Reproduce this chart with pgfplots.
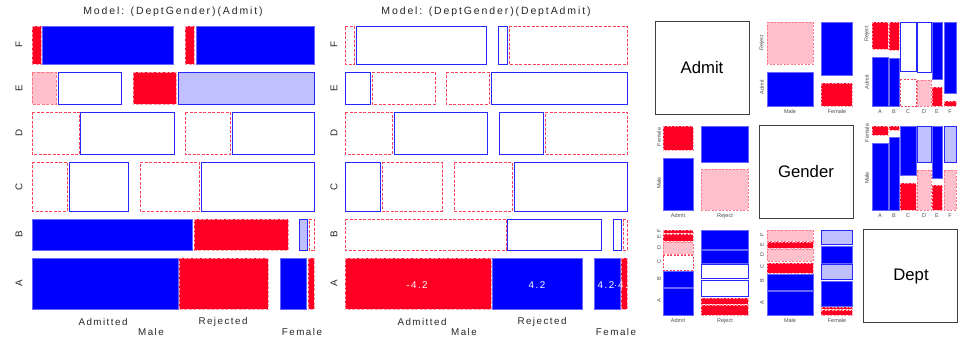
\documentclass[border=0pt]{standalone}
\usepackage{fontspec}
\setmainfont{Liberation Sans}
\newfontfamily\lsfont[LetterSpace=15]{Liberation Sans}
\newfontfamily\ttlfont[LetterSpace=18]{Liberation Sans}
\usepackage{pgfplots}
\pgfplotsset{compat=1.18}
\definecolor{mblue}{RGB}{0,0,255}
\definecolor{mred}{RGB}{255,0,36}
\definecolor{mpink}{RGB}{255,192,203}
\definecolor{mlblue}{RGB}{192,192,255}
\def\lw{0.9bp}
\def\dsh{3bp}
\tikzset{
 pf/.style={fill=mblue, draw=mblue!60!white, line width=\lw},
 pl/.style={fill=mlblue, draw=mblue!85!white, line width=\lw},
 pw/.style={fill=white, draw=mblue!85!white, line width=\lw},
 nf/.style={fill=mred, draw=mred!40!white, dash pattern=on \dsh off 1.5bp, line width=\lw},
 nl/.style={fill=mpink, draw=mred!55!white, dash pattern=on \dsh off 1.5bp, line width=\lw},
 nw/.style={fill=white, draw=mred!75!white, dash pattern=on \dsh off 1.5bp, line width=\lw},
 db/.style={fill=white, draw=black!75, line width=1bp},
 lab/.style={font=\lsfont\fontsize{9.8bp}{11bp}\selectfont, text=black!85, inner sep=0pt},
 ttl/.style={font=\ttlfont\fontsize{10.5bp}{12bp}\selectfont, text=black!85, inner sep=0pt},
 sl/.style={font=\fontsize{5.5bp}{6bp}\selectfont, text=black!70, inner sep=0pt},
 dl/.style={font=\fontsize{16.7bp}{18bp}\selectfont, inner sep=0pt},
}
\newcommand{\tile}[5]{\addplot[#5] coordinates {(#1,#3)(#2,#3)(#2,#4)(#1,#4)} -- cycle;}
\pgfplotsset{panel/.style={scale only axis, axis lines=none, y dir=reverse, clip=false, ymin=0, ymax=337, height=337bp, anchor=north west}}
\begin{document}
\begin{tikzpicture}
\path[use as bounding box] (0bp,0bp) rectangle (963bp,-337bp);
% ---------------- left panel
\begin{axis}[panel, at={(0bp,0bp)}, width=330bp, xmin=0, xmax=330]
\tile{32}{41}{26}{64}{nf} \tile{42}{173}{26}{64}{pf} \tile{185}{194}{26}{64}{nf} \tile{196}{314}{26}{64}{pf}
\tile{32}{56}{72}{104}{nl} \tile{58}{121}{72}{104}{pw} \tile{133}{176}{72}{104}{nf} \tile{178}{314}{72}{104}{pl}
\tile{32}{79}{112}{154}{nw} \tile{80}{174}{112}{154}{pw} \tile{185}{230}{112}{154}{nw} \tile{232}{314}{112}{154}{pw}
\tile{32}{67}{162}{211}{nw} \tile{69}{128}{162}{211}{pw} \tile{140}{199}{162}{211}{nw} \tile{201}{314}{162}{211}{pw}
\tile{32}{192}{219}{250}{pf} \tile{194}{288}{219}{250}{nf} \tile{299}{307}{219}{250}{pl} \tile{309}{314}{219}{250}{nw}
\tile{32}{178}{258}{309}{pf} \tile{179}{268}{258}{309}{nf} \tile{280}{306}{258}{309}{pf} \tile{308}{314}{258}{309}{nf}
\node[ttl] at (axis cs:173,12) {Model: (DeptGender)(Admit)};
\node[lab,rotate=90] at (axis cs:19,45) {F};
\node[lab,rotate=90] at (axis cs:19,88) {E};
\node[lab,rotate=90] at (axis cs:19,133) {D};
\node[lab,rotate=90] at (axis cs:19,186.5) {C};
\node[lab,rotate=90] at (axis cs:19,234.5) {B};
\node[lab,rotate=90] at (axis cs:19,283.5) {A};
\node[lab] at (axis cs:103,322) {Admitted};
\node[lab] at (axis cs:223,322) {Rejected};
\node[lab] at (axis cs:151,332) {Male};
\node[lab] at (axis cs:302,332) {Female};
\end{axis}
% ---------------- middle panel
\begin{axis}[panel, at={(330bp,0bp)}, width=310bp, xmin=330, xmax=640]
\tile{345}{354}{26}{64}{nw} \tile{356}{486}{26}{64}{pw} \tile{498}{507}{26}{64}{pw} \tile{509}{627}{26}{64}{nw}
\tile{345}{370}{72}{104}{pw} \tile{372}{435}{72}{104}{nw} \tile{446}{489}{72}{104}{nw} \tile{491}{627}{72}{104}{pw}
\tile{345}{392}{112}{154}{nw} \tile{394}{487}{112}{154}{pw} \tile{499}{543}{112}{154}{pw} \tile{545}{627}{112}{154}{nw}
\tile{345}{380}{162}{211}{pw} \tile{382}{442}{162}{211}{nw} \tile{454}{512}{162}{211}{nw} \tile{514}{627}{162}{211}{pw}
\tile{345}{506}{219}{250}{nw} \tile{507}{601}{219}{250}{pw} \tile{613}{621}{219}{250}{pw} \tile{623}{627}{219}{250}{nw}
\tile{345}{491}{258}{309}{nf} \tile{492}{582}{258}{309}{pf} \tile{594}{620}{258}{309}{pf} \tile{621}{627}{258}{309}{nf}
\node[lab,text=white] at (axis cs:417,285) {-4.2};
\node[lab,text=white] at (axis cs:537,285) {4.2};
\node[lab,text=white] at (axis cs:606,285) {4.2};
\begin{scope}
\clip (axis cs:615,250) rectangle (axis cs:628,320);
\node[lab,text=white] at (axis cs:624,285) {-4.2};
\end{scope}
\node[ttl] at (axis cs:486,12) {Model: (DeptGender)(DeptAdmit)};
\node[lab,rotate=90] at (axis cs:334,45) {F};
\node[lab,rotate=90] at (axis cs:334,88) {E};
\node[lab,rotate=90] at (axis cs:334,133) {D};
\node[lab,rotate=90] at (axis cs:334,186.5) {C};
\node[lab,rotate=90] at (axis cs:334,234.5) {B};
\node[lab,rotate=90] at (axis cs:334,283.5) {A};
\node[lab] at (axis cs:422,322) {Admitted};
\node[lab] at (axis cs:542,322) {Rejected};
\node[lab] at (axis cs:464,332) {Male};
\node[lab] at (axis cs:616,332) {Female};
\end{axis}
% ---------------- pairs panel
\def\lw{0.6bp}
\def\dsh{2bp}
\begin{axis}[panel, at={(640bp,0bp)}, width=323bp, xmin=640, xmax=963]
\tile{655}{749}{21}{114}{db} \tile{759}{853}{125}{218}{db} \tile{863}{957}{229}{322}{db}
\node[dl] at (axis cs:702,68) {Admit};
\node[dl] at (axis cs:806,172) {Gender};
\node[dl] at (axis cs:911,276) {Dept};
% (1,2) Admit x Gender
\tile{767}{813}{22}{64}{nl} \tile{767}{813}{72}{106}{pf} \tile{821}{852}{22}{75}{pf} \tile{821}{852}{83}{106}{nf}
\node[sl,rotate=90] at (axis cs:762,43) {Reject};
\node[sl,rotate=90] at (axis cs:762,87) {Admit};
\node[sl] at (axis cs:790,112) {Male};
\node[sl] at (axis cs:837,112) {Female};
% (1,3) Admit x Dept
\tile{872}{888}{22}{49}{nf} \tile{872}{888}{57}{106}{pf}
\tile{889}{899}{22}{50}{nf} \tile{889}{899}{58}{106}{pf}
\tile{900}{916}{22}{71}{pw} \tile{900}{916}{79}{106}{nw}
\tile{917}{931}{22}{72}{pw} \tile{917}{931}{80}{106}{nl}
\tile{932}{942}{22}{79}{pf} \tile{932}{942}{87}{106}{nf}
\tile{944}{956}{22}{93}{pf} \tile{944}{956}{101}{106}{nf}
\node[sl,rotate=90] at (axis cs:867,34) {Reject};
\node[sl,rotate=90] at (axis cs:867,82) {Admit};
\node[sl] at (axis cs:880,112) {A};
\node[sl] at (axis cs:894,112) {B};
\node[sl] at (axis cs:908,112) {C};
\node[sl] at (axis cs:924,112) {D};
\node[sl] at (axis cs:937,112) {E};
\node[sl] at (axis cs:950,112) {F};
% (2,1) Gender x Admit
\tile{663}{693}{126}{150}{nf} \tile{663}{693}{158}{210}{pf} \tile{701}{748}{126}{162}{pf} \tile{701}{748}{169}{210}{nl}
\node[sl,rotate=90] at (axis cs:659,137) {Female};
\node[sl,rotate=90] at (axis cs:659,183) {Male};
\node[sl] at (axis cs:678,216) {Admit};
\node[sl] at (axis cs:725,216) {Reject};
% (2,3) Gender x Dept
\tile{872}{888}{126}{135}{nf} \tile{872}{888}{143}{210}{pf}
\tile{889}{899}{126}{130}{nf} \tile{889}{899}{137}{210}{pf}
\tile{900}{916}{126}{175}{pf} \tile{900}{916}{183}{210}{nf}
\tile{917}{931}{126}{162}{pl} \tile{917}{931}{170}{210}{nl}
\tile{932}{942}{126}{178}{pf} \tile{932}{942}{185}{210}{nf}
\tile{944}{956}{126}{162}{pl} \tile{944}{956}{170}{210}{nl}
\node[sl,rotate=90] at (axis cs:867,133) {Female};
\node[sl,rotate=90] at (axis cs:867,178) {Male};
\node[sl] at (axis cs:880,216) {A};
\node[sl] at (axis cs:894,216) {B};
\node[sl] at (axis cs:908,216) {C};
\node[sl] at (axis cs:924,216) {D};
\node[sl] at (axis cs:937,216) {E};
\node[sl] at (axis cs:950,216) {F};
% (3,1) Dept x Admit
\tile{663}{693}{230}{233}{nf} \tile{663}{693}{234}{241}{nf} \tile{663}{693}{242}{254}{nl}
\tile{663}{693}{255}{270}{nw} \tile{663}{693}{271}{287}{pf} \tile{663}{693}{288}{315}{pf}
\tile{701}{748}{230}{249}{pf} \tile{701}{748}{250}{263}{pf} \tile{701}{748}{264}{278}{pw}
\tile{701}{748}{280}{296}{pw} \tile{701}{748}{298}{304}{nf} \tile{701}{748}{305}{315}{nf}
\node[sl,rotate=90] at (axis cs:659,231) {F};
\node[sl,rotate=90] at (axis cs:659,237) {E};
\node[sl,rotate=90] at (axis cs:659,248) {D};
\node[sl,rotate=90] at (axis cs:659,262) {C};
\node[sl,rotate=90] at (axis cs:659,279) {B};
\node[sl,rotate=90] at (axis cs:659,301) {A};
\node[sl] at (axis cs:678,321) {Admit};
\node[sl] at (axis cs:725,321) {Reject};
% (3,2) Dept x Gender
\tile{767}{813}{230}{241}{nl} \tile{767}{813}{242}{248}{nf} \tile{767}{813}{249}{261}{nl}
\tile{767}{813}{263}{273}{nf} \tile{767}{813}{274}{290}{pf} \tile{767}{813}{291}{315}{pf}
\tile{821}{852}{230}{244}{pl} \tile{821}{852}{246}{263}{pf} \tile{821}{852}{264}{279}{pl}
\tile{821}{852}{281}{306}{pf} \tile{821}{852}{307}{309}{nf} \tile{821}{852}{310}{315}{nf}
\node[sl,rotate=90] at (axis cs:762,235) {F};
\node[sl,rotate=90] at (axis cs:762,245) {E};
\node[sl,rotate=90] at (axis cs:762,255) {D};
\node[sl,rotate=90] at (axis cs:762,267) {C};
\node[sl,rotate=90] at (axis cs:762,281) {B};
\node[sl,rotate=90] at (axis cs:762,303) {A};
\node[sl] at (axis cs:790,321) {Male};
\node[sl] at (axis cs:837,321) {Female};
\end{axis}
\end{tikzpicture}
\end{document}
